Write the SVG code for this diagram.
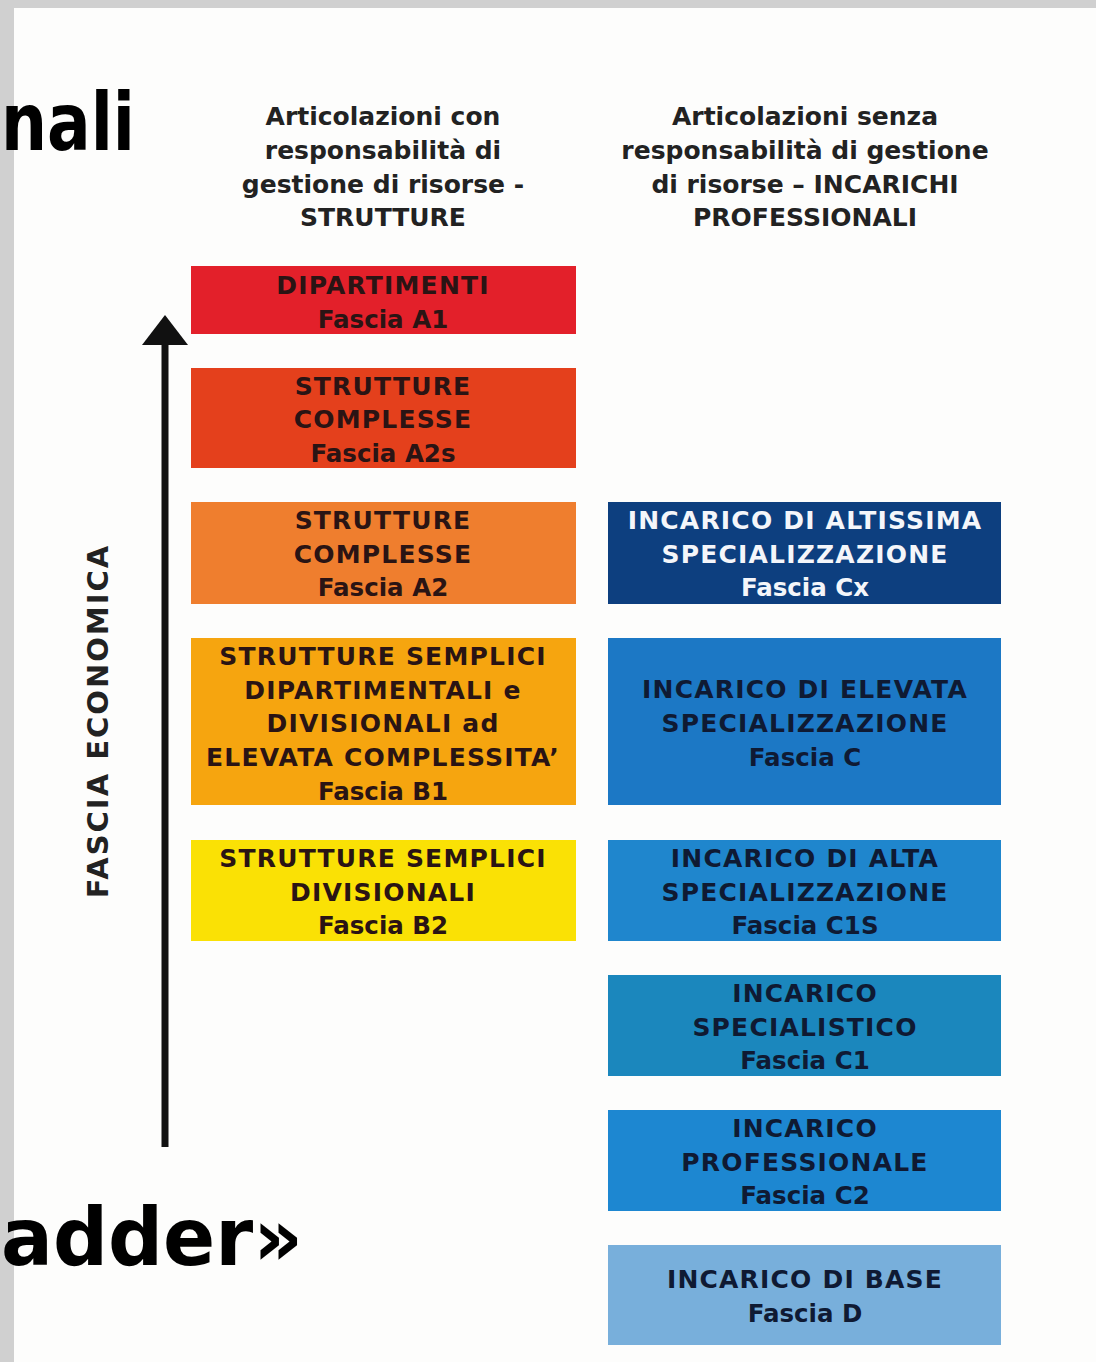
<svg xmlns="http://www.w3.org/2000/svg" width="1096" height="1362" viewBox="0 0 1096 1362">
<style>
.hdr{font-family:"DejaVu Sans",Verdana,sans-serif;font-weight:bold;font-size:25px;fill:#222;text-anchor:middle}
.bt{font-family:"DejaVu Sans",Verdana,sans-serif;font-weight:bold;font-size:25px;letter-spacing:1.2px;text-anchor:middle}
.fs{letter-spacing:0;font-size:24.5px}
.dk{fill:#2a1414}
.nv{fill:#0f1a33}
.wt{fill:#f4f6fa}
.big{font-family:"DejaVu Sans",Verdana,sans-serif;font-weight:bold;font-size:80px;fill:#000}
</style>
<defs>
<marker id="ah" viewBox="0 0 30 46" refX="5" refY="23" markerWidth="30" markerHeight="46" orient="auto" markerUnits="userSpaceOnUse">
<path d="M0,0 L30,23 L0,46 z" fill="#111"/>
</marker>
</defs>
<rect width="1096" height="1362" fill="#fdfdfc"/>
<rect x="0" y="0" width="1096" height="8" fill="#d0d0d0"/>
<rect x="0" y="0" width="14" height="1362" fill="#d0d0d0"/>

<text class="big" x="1" y="150" textLength="134" lengthAdjust="spacingAndGlyphs">nali</text>
<text class="big" x="1" y="1265" textLength="302" lengthAdjust="spacingAndGlyphs">adder»</text>

<g id="hdr-left">
<text class="hdr" x="383" y="125">Articolazioni con</text>
<text class="hdr" x="383" y="159">responsabilità di</text>
<text class="hdr" x="383" y="193">gestione di risorse -</text>
<text class="hdr" x="383" y="226">STRUTTURE</text>
</g>
<g id="hdr-right">
<text class="hdr" x="805" y="125">Articolazioni senza</text>
<text class="hdr" x="805" y="159">responsabilità di gestione</text>
<text class="hdr" x="805" y="193">di risorse – INCARICHI</text>
<text class="hdr" x="805" y="226">PROFESSIONALI</text>
</g>

<g id="axis-label">
<text class="bt" x="0" y="0" transform="translate(108,721) rotate(-90)" style="font-size:29px;letter-spacing:2px;fill:#222">FASCIA ECONOMICA</text>
</g>

<g id="connectors">
<line x1="165" y1="1147" x2="165" y2="340" stroke="#111" stroke-width="7" marker-end="url(#ah)"/>
</g>

<g id="A1">
<rect x="191" y="266" width="385" height="68" fill="#e3202a"/>
<text class="bt dk" x="383" y="294">DIPARTIMENTI</text>
<text class="bt fs dk" x="383" y="328">Fascia A1</text>
</g>
<g id="A2s">
<rect x="191" y="368" width="385" height="100" fill="#e4401c"/>
<text class="bt dk" x="383" y="395">STRUTTURE</text>
<text class="bt dk" x="383" y="428">COMPLESSE</text>
<text class="bt fs dk" x="383" y="462">Fascia A2s</text>
</g>
<g id="A2">
<rect x="191" y="502" width="385" height="102" fill="#ef7e2e"/>
<text class="bt dk" x="383" y="529">STRUTTURE</text>
<text class="bt dk" x="383" y="563">COMPLESSE</text>
<text class="bt fs dk" x="383" y="596">Fascia A2</text>
</g>
<g id="B1">
<rect x="191" y="638" width="385" height="167" fill="#f6a50f"/>
<text class="bt dk" x="383" y="665">STRUTTURE SEMPLICI</text>
<text class="bt dk" x="383" y="699">DIPARTIMENTALI e</text>
<text class="bt dk" x="383" y="732">DIVISIONALI ad</text>
<text class="bt dk" x="383" y="766">ELEVATA COMPLESSITA’</text>
<text class="bt fs dk" x="383" y="800">Fascia B1</text>
</g>
<g id="B2">
<rect x="191" y="840" width="385" height="101" fill="#fae105"/>
<text class="bt dk" x="383" y="867">STRUTTURE SEMPLICI</text>
<text class="bt dk" x="383" y="901">DIVISIONALI</text>
<text class="bt fs dk" x="383" y="934">Fascia B2</text>
</g>

<g id="Cx">
<rect x="608" y="502" width="393" height="102" fill="#0d3f7f"/>
<text class="bt wt" x="805" y="529">INCARICO DI ALTISSIMA</text>
<text class="bt wt" x="805" y="563">SPECIALIZZAZIONE</text>
<text class="bt fs wt" x="805" y="596">Fascia Cx</text>
</g>
<g id="C">
<rect x="608" y="638" width="393" height="167" fill="#1c78c5"/>
<text class="bt nv" x="805" y="698">INCARICO DI ELEVATA</text>
<text class="bt nv" x="805" y="732">SPECIALIZZAZIONE</text>
<text class="bt fs nv" x="805" y="766">Fascia C</text>
</g>
<g id="C1S">
<rect x="608" y="840" width="393" height="101" fill="#1f86cd"/>
<text class="bt nv" x="805" y="867">INCARICO DI ALTA</text>
<text class="bt nv" x="805" y="901">SPECIALIZZAZIONE</text>
<text class="bt fs nv" x="805" y="934">Fascia C1S</text>
</g>
<g id="C1">
<rect x="608" y="975" width="393" height="101" fill="#1b87bd"/>
<text class="bt nv" x="805" y="1002">INCARICO</text>
<text class="bt nv" x="805" y="1036">SPECIALISTICO</text>
<text class="bt fs nv" x="805" y="1069">Fascia C1</text>
</g>
<g id="C2">
<rect x="608" y="1110" width="393" height="101" fill="#1d87d1"/>
<text class="bt nv" x="805" y="1137">INCARICO</text>
<text class="bt nv" x="805" y="1171">PROFESSIONALE</text>
<text class="bt fs nv" x="805" y="1204">Fascia C2</text>
</g>
<g id="D">
<rect x="608" y="1245" width="393" height="100" fill="#78afdb"/>
<text class="bt nv" x="805" y="1288">INCARICO DI BASE</text>
<text class="bt fs nv" x="805" y="1322">Fascia D</text>
</g>
</svg>
